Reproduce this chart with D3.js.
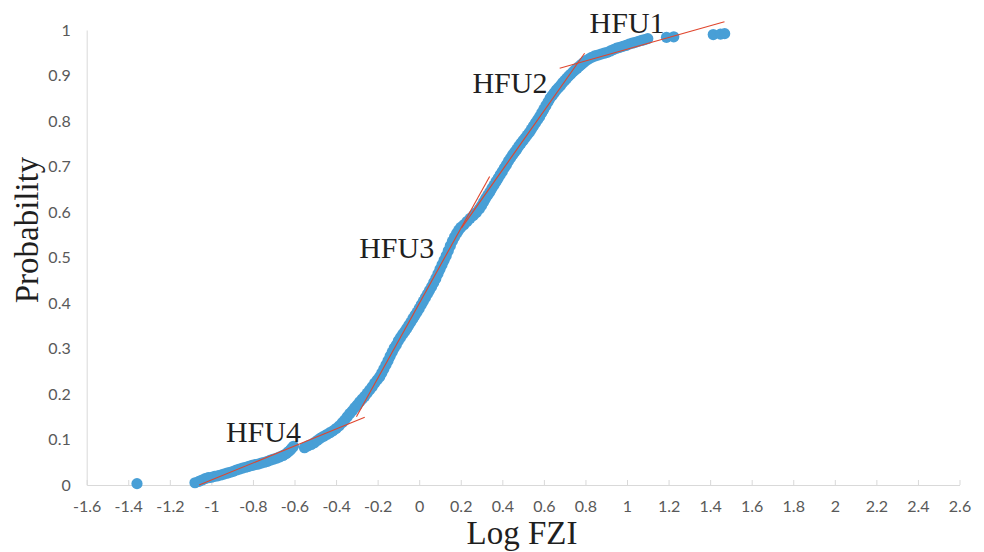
<!DOCTYPE html>
<html>
<head>
<meta charset="utf-8">
<script src="https://cdn.jsdelivr.net/npm/d3@7"></script>
<style>
  body { margin: 0; background: #fff; }
  svg { display: block; }
</style>
</head>
<body>
<svg id="chart" width="984" height="552"></svg>
<script>
// Cumulative probability of Log FZI samples
const logFZI = [
  -1.358, -1.079, -1.06, -1.045, -1.03, -1.015, -1.0, -0.985, -0.97, -0.955,
  -0.94, -0.925, -0.91, -0.895, -0.88, -0.865, -0.85, -0.835, -0.82, -0.805,
  -0.79, -0.775, -0.76, -0.745, -0.73, -0.715, -0.70, -0.685, -0.67, -0.655,
  -0.64, -0.63, -0.62, -0.612, -0.605,
  -0.552, -0.535, -0.52, -0.505, -0.49, -0.475, -0.46, -0.445, -0.43, -0.415,
  -0.40, -0.385, -0.37, -0.358, -0.346, -0.334, -0.322, -0.31, -0.298, -0.286,
  -0.274, -0.262, -0.25, -0.238, -0.226, -0.214, -0.202, -0.19, -0.18, -0.17,
  -0.16, -0.15, -0.14, -0.13, -0.12, -0.11, -0.10, -0.09, -0.08, -0.07,
  -0.06, -0.05, -0.04, -0.03, -0.02, -0.01, 0.0, 0.01, 0.02, 0.03,
  0.04, 0.05, 0.06, 0.07, 0.08, 0.09, 0.10, 0.11, 0.12, 0.13,
  0.14, 0.15, 0.16, 0.17, 0.18, 0.19, 0.20, 0.215, 0.23, 0.245,
  0.26, 0.275, 0.29, 0.30, 0.31, 0.32, 0.33, 0.34, 0.35, 0.36,
  0.37, 0.38, 0.39, 0.40, 0.41, 0.42, 0.43, 0.44, 0.45, 0.46,
  0.47, 0.48, 0.49, 0.50, 0.51, 0.52, 0.53, 0.54, 0.55, 0.56,
  0.57, 0.58, 0.59, 0.60, 0.61, 0.62, 0.63, 0.64, 0.65, 0.66,
  0.67, 0.68, 0.69, 0.70, 0.71, 0.72, 0.73, 0.74, 0.75, 0.76,
  0.77, 0.78, 0.79, 0.80, 0.815, 0.83, 0.845, 0.86, 0.875, 0.89,
  0.905, 0.92, 0.935, 0.95, 0.965, 0.98, 0.995, 1.01, 1.025, 1.04,
  1.055, 1.07, 1.085, 1.10, 1.19, 1.225, 1.415, 1.45, 1.47
];
const probability = [
  0.003, 0.005, 0.008, 0.011, 0.014, 0.016, 0.017, 0.019, 0.020, 0.022,
  0.024, 0.026, 0.028, 0.030, 0.033, 0.035, 0.037, 0.039, 0.041, 0.043,
  0.045, 0.046, 0.048, 0.050, 0.052, 0.055, 0.057, 0.059, 0.062, 0.065,
  0.069, 0.073, 0.077, 0.081, 0.085,
  0.082, 0.086, 0.089, 0.093, 0.098, 0.103, 0.107, 0.111, 0.115, 0.119,
  0.124, 0.130, 0.137, 0.143, 0.150, 0.157, 0.163, 0.170, 0.176, 0.183,
  0.189, 0.195, 0.202, 0.209, 0.216, 0.224, 0.231, 0.238, 0.246, 0.255,
  0.264, 0.273, 0.283, 0.292, 0.301, 0.308, 0.317, 0.324, 0.331, 0.337,
  0.344, 0.351, 0.358, 0.366, 0.373, 0.380, 0.388, 0.396, 0.404, 0.412,
  0.420, 0.428, 0.436, 0.445, 0.454, 0.464, 0.474, 0.484, 0.494, 0.504,
  0.515, 0.526, 0.536, 0.545, 0.553, 0.560, 0.566, 0.572, 0.579, 0.586,
  0.592, 0.599, 0.607, 0.614, 0.622, 0.630, 0.637, 0.644, 0.652, 0.659,
  0.667, 0.674, 0.682, 0.689, 0.697, 0.704, 0.712, 0.719, 0.726, 0.732,
  0.738, 0.745, 0.751, 0.757, 0.763, 0.769, 0.775, 0.782, 0.789, 0.796,
  0.803, 0.810, 0.818, 0.826, 0.834, 0.842, 0.850, 0.856, 0.862, 0.868,
  0.873, 0.878, 0.884, 0.889, 0.894, 0.899, 0.903, 0.908, 0.912, 0.916,
  0.920, 0.924, 0.928, 0.932, 0.936, 0.940, 0.943, 0.945, 0.947, 0.949,
  0.951, 0.954, 0.957, 0.960, 0.962, 0.964, 0.966, 0.969, 0.971, 0.973,
  0.975, 0.977, 0.979, 0.981, 0.984, 0.985, 0.990, 0.991, 0.992
];

// Axis ticks
const xTicks = [-1.6, -1.4, -1.2, -1, -0.8, -0.6, -0.4, -0.2, 0, 0.2, 0.4, 0.6, 0.8,
                1, 1.2, 1.4, 1.6, 1.8, 2, 2.2, 2.4, 2.6];
const yTicks = [0, 0.1, 0.2, 0.3, 0.4, 0.5, 0.6, 0.7, 0.8, 0.9, 1];

// Hydraulic flow unit trend segments (Log FZI, probability)
const unitNames = ["HFU1", "HFU2", "HFU3", "HFU4"];
const unitStartX = [0.676, 0.204, -0.302, -1.059];
const unitStartY = [0.916, 0.565, 0.150, 0.0];
const unitEndX = [1.469, 0.796, 0.339, -0.262];
const unitEndY = [1.018, 0.949, 0.678, 0.149];
// Unit label anchors (left edge, baseline) in data units
const unitLabelX = [0.820, 0.256, -0.289, -0.930];
const unitLabelY = [0.993, 0.861, 0.498, 0.095];

const svg = d3.select("#chart");
const W = 984, H = 552;
const plotLeft = 86.7, plotRight = 959.5, plotTop = 30, plotBottom = 485;

const x = d3.scaleLinear().domain([-1.6, 2.6]).range([plotLeft, plotRight]);
const y = d3.scaleLinear().domain([0, 1]).range([plotBottom, plotTop]);

svg.append("rect").attr("width", W).attr("height", H).attr("fill", "#fff");

const fmt = d => String(+d.toFixed(1)).replace("\u2212", "-");

// X axis
const gx = svg.append("g")
  .attr("transform", `translate(0,${plotBottom})`)
  .call(d3.axisBottom(x).tickValues(xTicks).tickFormat(fmt)
    .tickSizeInner(-5).tickSizeOuter(0).tickPadding(16));
gx.select(".domain").attr("stroke", "#d9d9d9");
gx.selectAll(".tick line").attr("stroke", "#d9d9d9");
gx.selectAll(".tick text")
  .attr("fill", "#595959")
  .style("font-family", "Lato, 'Open Sans', sans-serif")
  .style("font-size", "16px");

// Y axis
const gy = svg.append("g")
  .attr("transform", `translate(${plotLeft},0)`)
  .call(d3.axisLeft(y).tickValues(yTicks).tickFormat(fmt)
    .tickSize(0).tickPadding(16));
gy.select(".domain").attr("stroke", "#d9d9d9");
gy.selectAll(".tick text")
  .attr("fill", "#595959")
  .style("font-family", "Lato, 'Open Sans', sans-serif")
  .style("font-size", "16px");

// Sample points
const pts = logFZI.map((v, i) => ({ x: v, y: probability[i] }));
svg.append("g")
  .selectAll("circle")
  .data(pts)
  .join("circle")
  .attr("cx", d => x(d.x))
  .attr("cy", d => y(d.y))
  .attr("r", 5.6)
  .attr("fill", "#489fd6");

// Trend segments for each flow unit
const segs = unitNames.map((n, i) => ({
  name: n,
  x1: unitStartX[i], y1: unitStartY[i],
  x2: unitEndX[i], y2: unitEndY[i],
  lx: unitLabelX[i], ly: unitLabelY[i]
}));
svg.append("g")
  .selectAll("line")
  .data(segs)
  .join("line")
  .attr("x1", d => x(d.x1)).attr("y1", d => y(d.y1))
  .attr("x2", d => x(d.x2)).attr("y2", d => y(d.y2))
  .attr("stroke", "#e0452c")
  .attr("stroke-width", 1.1);

svg.append("g")
  .selectAll("text")
  .data(segs)
  .join("text")
  .attr("x", d => x(d.lx))
  .attr("y", d => y(d.ly))
  .attr("fill", "#1f1f1f")
  .style("font-family", "'Liberation Serif', 'Times New Roman', serif")
  .style("font-size", "30px")
  .text(d => d.name);

// Axis titles
svg.append("text")
  .attr("x", 522).attr("y", 544)
  .attr("text-anchor", "middle")
  .attr("fill", "#1f1f1f")
  .style("font-family", "'Liberation Serif', 'Times New Roman', serif")
  .style("font-size", "33px")
  .text("Log FZI");

svg.append("text")
  .attr("transform", "translate(38,230) rotate(-90)")
  .attr("text-anchor", "middle")
  .attr("fill", "#1f1f1f")
  .style("font-family", "'Liberation Serif', 'Times New Roman', serif")
  .style("font-size", "33px")
  .text("Probability");
</script>
</body>
</html>
